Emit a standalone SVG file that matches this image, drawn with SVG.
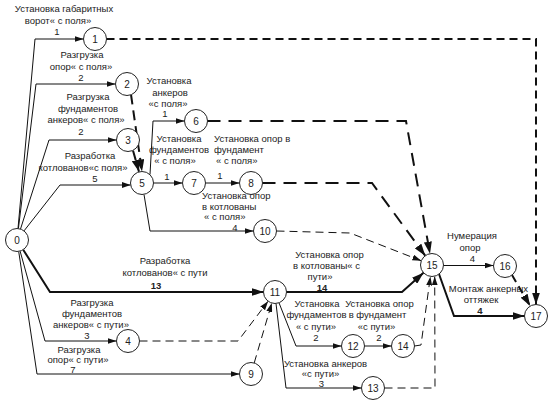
<svg xmlns="http://www.w3.org/2000/svg" width="550" height="403" viewBox="0 0 550 403">
<style>
text{font-family:"Liberation Sans",Arial,sans-serif;font-size:9.5px;fill:#222}
.l{text-anchor:middle}
.s{text-anchor:start}
.b{font-weight:bold}
.node circle{fill:#fff;stroke:#222;stroke-width:1}
.node text{text-anchor:middle;font-size:10px}
.e{fill:none;stroke:#111}
.thin{stroke-width:1;marker-end:url(#as)}
.thick{stroke-width:2;marker-end:url(#al)}
.dthick{stroke-width:2;stroke-dasharray:10,6;marker-end:url(#al)}
.dthin{stroke-width:1;stroke-dasharray:8,5;marker-end:url(#as)}
</style>
<defs>
<marker id="as" markerUnits="userSpaceOnUse" markerWidth="9" markerHeight="6" refX="9" refY="3" orient="auto"><path d="M0,0 L9,3 L0,6 z" fill="#111"/></marker>
<marker id="al" markerUnits="userSpaceOnUse" markerWidth="12" markerHeight="8" refX="12" refY="4" orient="auto"><path d="M0,0 L12,4 L0,8 z" fill="#111"/></marker>
</defs>
<rect width="550" height="403" fill="#fff"/>
<g id="connectors">
<path class="e thin" d="M18,228.5 L35,39 L83.5,39"/>
<path class="e thin" d="M18.4,228.6 L36,84 L115.5,84"/>
<path class="e thin" d="M20.5,229 L49,140 L116.5,140"/>
<path class="e thin" d="M24,230.9 L60,185 L130.7,185"/>
<path class="e thick" d="M23.2,249.7 L50,292 L263.5,292"/>
<path class="e thin" d="M20.1,251.1 L45,341 L116.5,341"/>
<path class="e thin" d="M18.7,251.4 L37,374 L239.5,374"/>
<path class="e dthick" style="stroke-dasharray:8,5" d="M106.5,39 L536,39 L536,304.5"/>
<path class="e dthick" d="M131,94.5 L142,171.5"/>
<path class="e dthick" d="M133,150.5 L139,171.8"/>
<path class="e thin" d="M150,174.5 L153,121 L184.5,121"/>
<path class="e thin" d="M153.5,183 L182.5,183"/>
<path class="e thin" d="M205.5,183 L239.5,183"/>
<path class="e thin" d="M144,194.5 L150,231 L253.5,231"/>
<path class="e dthick" style="stroke-dasharray:13,8" d="M262.5,183 L372,183 L425.2,255.7"/>
<path class="e dthick" style="stroke-dasharray:13,8" d="M207.5,121 L406,121 L430,253.7"/>
<path class="e dthin" d="M276.5,231 L350,233 L421.3,260.8"/>
<path class="e thick" d="M286.5,292 L402,292 L423.5,272.7"/>
<path class="e dthin" d="M414.5,346 L421,345 L430.4,276.4"/>
<path class="e dthin" d="M384.5,388 L435,388 L434.7,276.5"/>
<path class="e thin" d="M443.5,265.5 L493.5,265.5"/>
<path class="e thick" d="M439,274 L454,316 L524.5,316"/>
<path class="e dthick" style="stroke-dasharray:8,5" d="M512,275 L530.2,306.1"/>
<path class="e thin" d="M279,302.8 L296,346 L341.5,346"/>
<path class="e thin" d="M364.5,346 L391.5,346"/>
<path class="e thin" d="M276,303.5 L286,388 L361.5,388"/>
<path class="e dthin" d="M139.5,341 L238,341 L268.1,301.2"/>
<path class="e dthin" d="M254.2,363 L271.8,303"/>
</g>
<g id="labels">
<text class="l" x="64" y="12">Установка габаритных</text>
<text class="l" x="58" y="24">ворот« с поля»</text>
<text class="l" x="57" y="35">1</text>
<text class="l" x="82" y="58">Разгрузка</text>
<text class="l" x="81" y="70">опор« с поля»</text>
<text class="l" x="81" y="81">2</text>
<text class="l" x="88" y="100">Разгрузка</text>
<text class="l" x="88" y="111.5">фундаментов</text>
<text class="l" x="86" y="122.5">анкеров« с поля»</text>
<text class="l" x="81" y="134.5">2</text>
<text class="l" x="90" y="159">Разработка</text>
<text class="l" x="83" y="171">котлованов«с поля»</text>
<text class="l" x="95" y="182">5</text>
<text class="l" x="165" y="264">Разработка</text>
<text class="l" x="165" y="276">котлованов« с пути</text>
<text class="l b" x="156" y="289">13</text>
<text class="l" x="92" y="306">Разгрузка</text>
<text class="l" x="92" y="317">фундаментов</text>
<text class="l" x="91" y="328">анкеров« с пути»</text>
<text class="l" x="87" y="338.5">3</text>
<text class="l" x="79" y="353">Разгрузка</text>
<text class="l" x="78" y="363">опор« с пути»</text>
<text class="l" x="73" y="373">7</text>
<text class="l" x="169" y="84">Установка</text>
<text class="l" x="170" y="95.5">анкеров</text>
<text class="l" x="168" y="106.5">«с поля»</text>
<text class="l" x="165" y="117">1</text>
<text class="l" x="179" y="142">Установка</text>
<text class="l" x="179" y="153">фундаментов</text>
<text class="l" x="175" y="164">« с поля»</text>
<text class="l" x="167" y="180">1</text>
<text class="s" x="214" y="142">Установка опор в</text>
<text class="s" x="214" y="153">фундамент</text>
<text class="s" x="216" y="164">« с поля»</text>
<text class="l" x="220" y="179">1</text>
<text class="s" x="202" y="199">Установка опор</text>
<text class="s" x="202" y="209.5">в котлованы</text>
<text class="s" x="204" y="220">« с поля»</text>
<text class="l" x="235" y="230.5">4</text>
<text class="l" x="329.5" y="258">Установка опор</text>
<text class="l" x="326.5" y="269">в котлованы« с</text>
<text class="l" x="320" y="280">пути»</text>
<text class="l b" x="322" y="290.5">14</text>
<text class="l" x="317" y="306.5">Установка</text>
<text class="l" x="316.5" y="318">фундаментов</text>
<text class="l" x="316" y="329.5">« с пути»</text>
<text class="l" x="316" y="341">2</text>
<text class="l" x="379.5" y="306.5">Установка опор</text>
<text class="l" x="377.5" y="318">в фундамент</text>
<text class="l" x="376.5" y="329.5">«с пути»</text>
<text class="l" x="379" y="341">2</text>
<text class="l" x="325.5" y="367">Установка анкеров</text>
<text class="l" x="320.5" y="377">«с пути»</text>
<text class="l" x="321.5" y="386.5">3</text>
<text class="l" x="472" y="238.5">Нумерация</text>
<text class="l" x="470" y="250.5">опор</text>
<text class="l" x="472.5" y="262">4</text>
<text class="l" x="488.5" y="292">Монтаж анкерных</text>
<text class="l" x="481" y="303">оттяжек</text>
<text class="l b" x="480" y="313.5">4</text>
</g>
<g id="n0" class="node"><circle cx="17" cy="240" r="11.5"/><text x="17" y="243.5">0</text></g>
<g id="n1" class="node"><circle cx="95" cy="39" r="11.5"/><text x="95" y="42.5">1</text></g>
<g id="n2" class="node"><circle cx="127" cy="84" r="11.5"/><text x="127" y="87.5">2</text></g>
<g id="n3" class="node"><circle cx="128" cy="140" r="11.5"/><text x="128" y="143.5">3</text></g>
<g id="n4" class="node"><circle cx="128" cy="341" r="11.5"/><text x="128" y="344.5">4</text></g>
<g id="n5" class="node"><circle cx="142" cy="183" r="11.5"/><text x="142" y="186.5">5</text></g>
<g id="n6" class="node"><circle cx="196" cy="121" r="11.5"/><text x="196" y="124.5">6</text></g>
<g id="n7" class="node"><circle cx="194" cy="183" r="11.5"/><text x="194" y="186.5">7</text></g>
<g id="n8" class="node"><circle cx="251" cy="183" r="11.5"/><text x="251" y="186.5">8</text></g>
<g id="n9" class="node"><circle cx="251" cy="374" r="11.5"/><text x="251" y="377.5">9</text></g>
<g id="n10" class="node"><circle cx="265" cy="231" r="11.5"/><text x="265" y="234.5">10</text></g>
<g id="n11" class="node"><circle cx="275" cy="292" r="11.5"/><text x="275" y="295.5">11</text></g>
<g id="n12" class="node"><circle cx="353" cy="346" r="11.5"/><text x="353" y="349.5">12</text></g>
<g id="n13" class="node"><circle cx="373" cy="388" r="11.5"/><text x="373" y="391.5">13</text></g>
<g id="n14" class="node"><circle cx="403" cy="346" r="11.5"/><text x="403" y="349.5">14</text></g>
<g id="n15" class="node"><circle cx="432" cy="265" r="11.5"/><text x="432" y="268.5">15</text></g>
<g id="n16" class="node"><circle cx="505" cy="266" r="11.5"/><text x="505" y="269.5">16</text></g>
<g id="n17" class="node"><circle cx="536" cy="316" r="11.5"/><text x="536" y="319.5">17</text></g>
</svg>
